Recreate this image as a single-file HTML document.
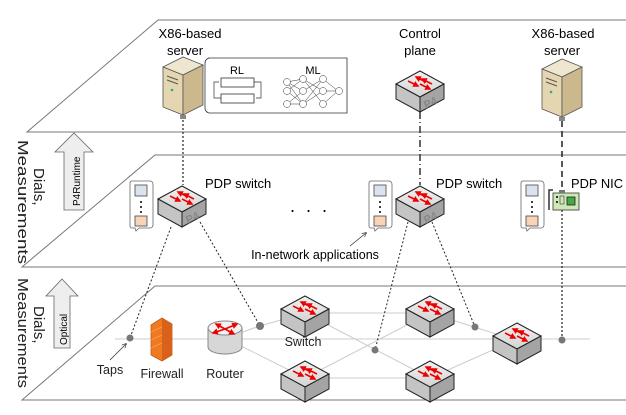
<!DOCTYPE html>
<html><head><meta charset="utf-8"><style>
body{margin:0;background:#fff}
svg{display:block;font-family:"Liberation Sans",sans-serif}
</style></head><body>
<svg width="626" height="415" viewBox="0 0 626 415" xmlns="http://www.w3.org/2000/svg">
<defs>
<linearGradient id="gt" x1="0" y1="0" x2="0" y2="1"><stop offset="0" stop-color="#f2f2f2"/><stop offset="1" stop-color="#d4d4d4"/></linearGradient>
<marker id="ah" markerWidth="4" markerHeight="4" refX="3" refY="2" orient="auto"><path d="M0,0L4,2L0,4z" fill="#e00"/></marker>
<marker id="ak" markerWidth="6" markerHeight="6" refX="5" refY="3" orient="auto"><path d="M0,0L6,3L0,6" fill="none" stroke="#333" stroke-width="0.8"/></marker>
<g id="sw">
<polygon points="-24,-4 0,-17 24,-4 0,9" fill="url(#gt)" stroke="#222" stroke-width="1"/>
<polygon points="-24,-4 0,9 0,24 -24,11" fill="#c4c4c4" stroke="#222" stroke-width="1"/>
<polygon points="0,9 24,-4 24,11 0,24" fill="#a4a4a4" stroke="#222" stroke-width="1"/>
<g stroke="#e00" stroke-width="1.6" marker-end="url(#ah)">
<line x1="-12" y1="-7" x2="-2" y2="-2"/>
<line x1="2" y1="-12" x2="-8" y2="-17" transform="translate(4,6)"/>
<line x1="0" y1="-4" x2="10" y2="1"/>
<line x1="12" y1="-4" x2="2" y2="-9"/>
</g>
</g>
<g id="p4"><use href="#sw"/><text x="12" y="18" font-size="11" font-weight="bold" fill="#888" transform="rotate(-25 12 18)" text-anchor="middle">P4</text></g>
<g id="srv">
<polygon points="-20,-18 0,-28 20,-20 0,-10" fill="#efe6cf" stroke="#555" stroke-width="0.8"/>
<polygon points="-20,-18 0,-10 0,30 -20,22" fill="#e4d6b0" stroke="#555" stroke-width="0.8"/>
<polygon points="0,-10 20,-20 20,20 0,30" fill="#cbb88c" stroke="#555" stroke-width="0.8"/>
<line x1="-16" y1="-9" x2="-5" y2="-5" stroke="#555"/><line x1="-16" y1="-5" x2="-5" y2="-1" stroke="#555"/>
<circle cx="-11" cy="5" r="1.3" fill="#3a7"/>
<rect x="-3" y="30" width="6" height="4" fill="#888"/>
</g>
<g id="app">
<path d="M2,0H20a3,3 0 0 1 3,3V44a3,3 0 0 1-3,3H9l-3,3 -1,-3H2a2,2 0 0 1-2-2V2a2,2 0 0 1 2-2z" fill="#fff" stroke="#666" stroke-width="0.8"/>
<rect x="5" y="4" width="12" height="11" fill="#dbe3ee" stroke="#444" stroke-width="0.8"/>
<circle cx="11" cy="21" r="1" fill="#000"/><circle cx="11" cy="26" r="1" fill="#000"/><circle cx="11" cy="31" r="1" fill="#000"/>
<rect x="5" y="35" width="12" height="10" fill="#f8d3b8" stroke="#444" stroke-width="0.8"/>
</g>
</defs>

<!-- planes -->
<g stroke="#777" stroke-width="1" fill="none">
<path d="M626,20H158L27,132H626"/>
<path d="M626,155H155L22,267H626"/>
<path d="M626,286H155L22,400H626"/>
</g>

<!-- side labels -->
<g font-size="15" fill="#222">
<text transform="translate(18,140) rotate(90)" textLength="124" lengthAdjust="spacingAndGlyphs">Measurements</text>
<text transform="translate(34,168) rotate(90)">Dials,</text>
<text transform="translate(18,278) rotate(90)" textLength="110" lengthAdjust="spacingAndGlyphs">Measurements</text>
<text transform="translate(34,306) rotate(90)">Dials,</text>
</g>
<polygon points="74,133 93,152 84,152 84,210 64,210 64,152 55,152" fill="#eee" stroke="#666" stroke-width="0.8"/>
<text transform="translate(80,206) rotate(-90)" font-size="10">P4Runtime</text>
<polygon points="62,279 78,296 70,296 70,348 54,348 54,296 46,296" fill="#eee" stroke="#666" stroke-width="0.8"/>
<text transform="translate(67,345) rotate(-90)" font-size="10">Optical</text>

<!-- top -->
<text x="190" y="38" font-size="13" text-anchor="middle">X86-based</text>
<text x="185" y="55" font-size="13" text-anchor="middle">server</text>
<use href="#srv" x="183" y="85"/>
<path d="M208,58H347V113H210a5,5 0 0 1-5-5V63a5,5 0 0 1 5-5z" fill="none" stroke="#333" stroke-width="0.8"/>
<text x="237" y="74" font-size="11" text-anchor="middle">RL</text>
<rect x="221" y="78" width="33" height="9" fill="#fff" stroke="#333" stroke-width="0.8"/>
<rect x="221" y="94" width="33" height="9" fill="#fff" stroke="#333" stroke-width="0.8"/>
<path d="M254,82H261V98H256M221,98H214V82H219" fill="none" stroke="#333" stroke-width="0.7"/>
<text x="313" y="74" font-size="11" text-anchor="middle">ML</text>
<g stroke="#333" stroke-width="0.5" fill="#fff">
<line x1="287" y1="82" x2="303" y2="79"/><line x1="287" y1="82" x2="303" y2="91"/><line x1="287" y1="91" x2="303" y2="79"/><line x1="287" y1="91" x2="303" y2="104"/><line x1="287" y1="104" x2="303" y2="91"/><line x1="287" y1="104" x2="303" y2="104"/><line x1="287" y1="82" x2="303" y2="104"/>
<line x1="303" y1="79" x2="323" y2="91"/><line x1="303" y1="91" x2="323" y2="79"/><line x1="303" y1="104" x2="323" y2="91"/><line x1="303" y1="79" x2="323" y2="104"/><line x1="303" y1="104" x2="323" y2="79"/>
<line x1="323" y1="79" x2="338" y2="91"/><line x1="323" y1="91" x2="338" y2="91"/><line x1="323" y1="104" x2="338" y2="91"/>
<circle cx="287" cy="82" r="3.5"/><circle cx="287" cy="91" r="3.5"/><circle cx="287" cy="104" r="3.5"/>
<circle cx="303" cy="79" r="3.5"/><circle cx="303" cy="91" r="3.5"/><circle cx="303" cy="104" r="3.5"/>
<circle cx="323" cy="79" r="3.5"/><circle cx="323" cy="91" r="3.5"/><circle cx="323" cy="104" r="3.5"/>
<circle cx="339" cy="91" r="3.5"/>
</g>
<text x="420" y="38" font-size="13" text-anchor="middle">Control</text>
<text x="420" y="55" font-size="13" text-anchor="middle">plane</text>
<use href="#p4" x="420" y="88"/>
<text x="563" y="38" font-size="13" text-anchor="middle">X86-based</text>
<text x="562" y="55" font-size="13" text-anchor="middle">server</text>
<use href="#srv" x="562" y="87"/>

<!-- vertical connectors -->
<line x1="183" y1="120" x2="183" y2="185" stroke="#222" stroke-width="1.2" stroke-dasharray="2,2"/>
<line x1="420" y1="112" x2="420" y2="185" stroke="#333" stroke-width="1.5" stroke-dasharray="7,3,1,3"/>
<line x1="562" y1="121" x2="562" y2="192" stroke="#222" stroke-width="1.5" stroke-dasharray="6,4"/>
<line x1="562" y1="210" x2="562" y2="340" stroke="#222" stroke-width="1.2" stroke-dasharray="2,2"/>

<!-- middle -->
<use href="#app" x="130" y="181"/>
<use href="#p4" x="182" y="203"/>
<text x="205" y="188" font-size="13">PDP switch</text>
<text x="310" y="212" font-size="18" text-anchor="middle" letter-spacing="3">. . .</text>
<use href="#app" x="369" y="181"/>
<use href="#p4" x="420" y="203"/>
<text x="436" y="188" font-size="13">PDP switch</text>
<use href="#app" x="521" y="181"/>
<g>
<rect x="553" y="193" width="26" height="17" fill="#cfe8b8" stroke="#333" stroke-width="0.8"/>
<rect x="567" y="197" width="8" height="8" fill="#4a4" stroke="#222" stroke-width="0.8"/>
<path d="M553,190H549V210" fill="none" stroke="#333" stroke-width="1.5"/>
<rect x="556" y="196" width="2" height="2" fill="#333"/><rect x="556" y="201" width="2" height="2" fill="#333"/><rect x="560" y="196" width="4" height="8" fill="none" stroke="#333" stroke-width="0.6"/>
<rect x="559" y="190" width="6" height="3" fill="#777"/>
</g>
<text x="571" y="188" font-size="13" textLength="52" lengthAdjust="spacingAndGlyphs">PDP NIC</text>
<text x="315" y="259" font-size="12.5" text-anchor="middle">In-network applications</text>
<line x1="350" y1="246" x2="366" y2="233" stroke="#333" stroke-width="0.8" marker-end="url(#ak)"/>

<!-- network lines -->
<g stroke="#ccc" stroke-width="1" fill="none">
<line x1="115" y1="339" x2="590" y2="339"/>
<path d="M225,338L260,326L305,313"/>
<path d="M225,338L305,378"/>
<path d="M305,313L430,313"/><path d="M305,313L430,378"/>
<path d="M305,378L430,313"/><path d="M305,378L430,378"/>
<path d="M430,313L515,340"/><path d="M430,378L515,340"/>
</g>
<!-- dotted links -->
<g stroke="#222" stroke-width="1" stroke-dasharray="2,2" fill="none">
<line x1="171" y1="227" x2="130" y2="338"/>
<line x1="200" y1="222" x2="260" y2="326"/>
<line x1="408" y1="222" x2="375" y2="350"/>
<line x1="432" y1="222" x2="475" y2="327"/>
</g>
<g fill="#777"><circle cx="130" cy="338" r="3.5"/><circle cx="260" cy="326" r="4"/><circle cx="375" cy="350" r="3.5"/><circle cx="475" cy="327" r="3.5"/><circle cx="562" cy="340" r="3.5"/></g>

<!-- firewall -->
<polygon points="151,325 162,318 172,324 172,355 162,361 151,355" fill="#f07a22" stroke="#c55a10" stroke-width="0.8"/>
<polygon points="162,318 172,324 172,355 162,361" fill="#d9611a"/>
<g stroke="#fbb07a" stroke-width="0.6"><line x1="151" y1="332" x2="162" y2="327"/><line x1="151" y1="340" x2="162" y2="335"/><line x1="151" y1="348" x2="162" y2="343"/></g>
<!-- router -->
<path d="M208,328V347a17,7 0 0 0 34,0V328" fill="#d7d7d7" stroke="#888"/>
<ellipse cx="225" cy="328" rx="17" ry="7" fill="#f2f2f2" stroke="#888"/>
<g stroke="#e00" stroke-width="1.6" marker-end="url(#ah)"><line x1="225" y1="329" x2="213" y2="333"/><line x1="225" y1="329" x2="237" y2="324"/><line x1="225" y1="329" x2="216" y2="324"/><line x1="225" y1="329" x2="234" y2="334"/></g>

<use href="#sw" x="305" y="313"/>
<use href="#sw" x="305" y="378"/>
<use href="#sw" x="430" y="313"/>
<use href="#sw" x="430" y="378"/>
<use href="#sw" x="517" y="340"/>

<g font-size="12.5" fill="#222" text-anchor="middle">
<text x="110" y="374">Taps</text>
<text x="162" y="378">Firewall</text>
<text x="225" y="378">Router</text>
<text x="303" y="346">Switch</text>
</g>
<line x1="110" y1="360" x2="126" y2="344" stroke="#333" stroke-width="0.8" marker-end="url(#ak)"/>
</svg>
</body></html>
